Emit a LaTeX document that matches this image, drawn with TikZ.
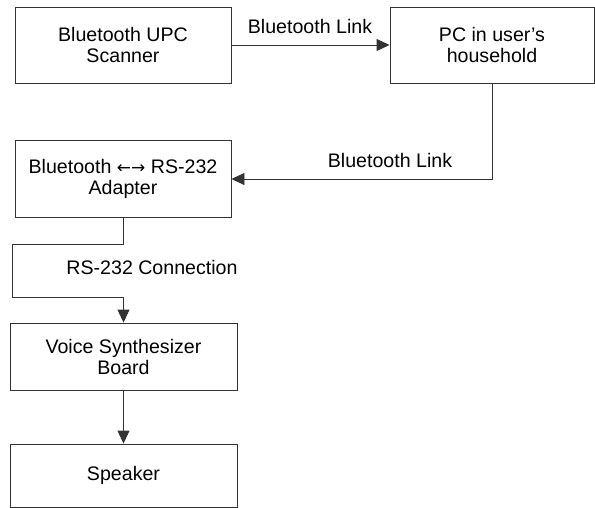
\documentclass[tikz,border=0pt]{standalone}
\usepackage{fontspec}
\setmainfont{Liberation Sans}
\newfontfamily\arrowfont{DejaVu Sans}
\usepackage{tikz}
\usetikzlibrary{arrows.meta}
\tikzstyle{block} = [draw=black!80, line width=0.9pt, inner sep=0pt, align=center,
  font=\fontsize{19.6}{21}\selectfont]
\tikzstyle{link} = [draw=black!80, line width=0.9pt, -{Triangle[length=13pt,width=12pt]}]
\tikzstyle{lbl} = [font=\fontsize{19.6}{21}\selectfont]

\begin{document}
\begin{tikzpicture}[x=1pt, y=1pt]
    \useasboundingbox (0,0) rectangle (595,-508);

    % Boxes
    \node[block, minimum width=216pt, minimum height=76pt] (scanner) at (123,-45) {Bluetooth UPC\\Scanner};
    \node[block, minimum width=204pt, minimum height=76pt] (pc) at (492,-45) {PC in user's\\household};
    \node[block, minimum width=216pt, minimum height=77pt] (adapter) at (123,-179) {Bluetooth {\arrowfont\fontsize{17}{21}\selectfont ←→} RS-232\\Adapter};
    \node[block, minimum width=227pt, minimum height=67pt] (synth) at (123.5,-356.5) {Voice Synthesizer\\Board};
    \node[block, minimum width=227pt, minimum height=63pt] (speaker) at (123.5,-475.5) {Speaker};

    % Links between boxes
    \draw[link] (scanner) -- (pc);
    \draw[link] (pc.south) |- (adapter.east);
    \draw[link] (adapter.south) -- ++(0,-27) -| (12,-297) -| (synth.north);
    \draw[link] (synth) -- (speaker);

    % Link labels
    \node[lbl] (lbl1) at (310,-26) {Bluetooth Link};
    \node[lbl] (lbl2) at (390,-160) {Bluetooth Link};
    \node[lbl] (lbl3) at (152,-267) {RS-232 Connection};
\end{tikzpicture}
\end{document}
